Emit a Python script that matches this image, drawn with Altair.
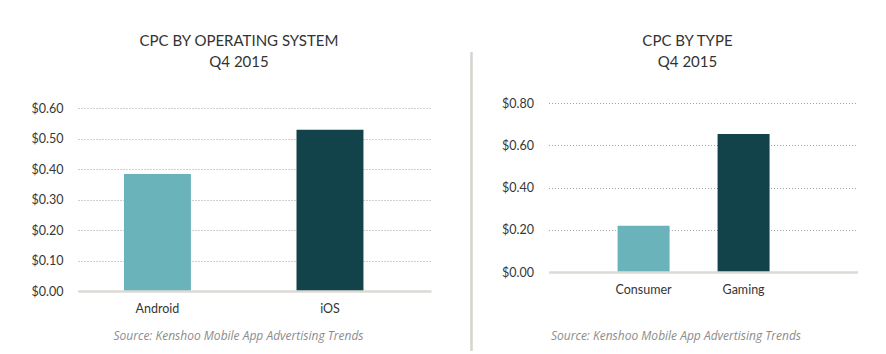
import altair as alt
import pandas as pd

# Data
os_names = ["Android", "iOS"]
os_cpc = [0.384, 0.529]
type_names = ["Consumer", "Gaming"]
type_cpc = [0.219, 0.653]
os_title = ["CPC BY OPERATING SYSTEM", "Q4 2015"]
type_title = ["CPC BY TYPE", "Q4 2015"]
os_ticks = [0, 0.1, 0.2, 0.3, 0.4, 0.5, 0.6]
type_ticks = [0, 0.2, 0.4, 0.6, 0.8]

light = "#6bb3bb"
dark = "#13434a"
source_text = "Source: Kenshoo Mobile App Advertising Trends"

df_os = pd.DataFrame({"cat": os_names, "cpc": os_cpc})
df_type = pd.DataFrame({"cat": type_names, "cpc": type_cpc})

FONT = "Lato"
TXT = "#363636"
ONE = alt.Data(values=[{"a": 1}])


def panel(df, names, title_lines, width, height, ymax, yvals, band, title_x, src_x, src_y, sep=False):
    pi, po, al = band
    bars = alt.Chart(df).mark_bar().encode(
        x=alt.X("cat:N", sort=names,
                scale=alt.Scale(paddingInner=pi, paddingOuter=po, align=al),
                axis=alt.Axis(title=source_text, labelAngle=0, ticks=False,
                              domainColor="#dcdad5", domainWidth=2.5,
                              labelPadding=11, labelFontSize=12.5, labelFont=FONT,
                              labelColor=TXT, zindex=2,
                              titleFont="Open Sans", titleFontStyle="italic",
                              titleFontWeight="normal", titleFontSize=12,
                              titleColor="#8c8c8c", titleX=src_x, titleY=src_y,
                              titleAlign="center", titleBaseline="middle",
                              titleAnchor="start")),
        y=alt.Y("cpc:Q", scale=alt.Scale(domain=[0, ymax], nice=False, zero=True),
                axis=alt.Axis(title=None, values=yvals, format="$.2f", grid=True,
                              gridDash=[1, 2], gridColor="#a0a0a0", gridWidth=1,
                              domain=False, ticks=False, labelPadding=15,
                              labelFontSize=12.5, labelFont=FONT, labelColor=TXT)),
        color=alt.Color("cat:N", scale=alt.Scale(domain=names, range=[light, dark]),
                        legend=None),
    )
    layers = [bars]
    for line, dy in zip(title_lines, [-62, -41]):
        layers.append(
            alt.Chart(ONE).mark_text(font=FONT, fontSize=15, color="#333333",
                                     align="center", baseline="middle").encode(
                x=alt.value(title_x), y=alt.value(dy), text=alt.value(line))
        )
    if sep:
        layers.append(
            alt.Chart(ONE).mark_rule(color="#d3d3cf", strokeWidth=2.5).encode(
                x=alt.value(-77), y=alt.value(-51), y2=alt.value(248))
        )
    return alt.layer(*layers).properties(width=width, height=height)


left = panel(df_os, os_names, os_title, 353, 188, 188 / 305, os_ticks,
             (0.612, 0.329, 0.405), 161, 160, 44)
right = panel(df_type, type_names, type_title, 309, 169, 0.8, type_ticks,
              (0.48, 0.785, 0.44), 139, 127, 63, sep=True)

chart = alt.hconcat(left, right, spacing=38.5).properties(
    padding={"left": 31, "top": 34, "right": 10, "bottom": 0},
    background="white",
).configure_view(stroke=None)

chart.save("out.html", embed_options={"renderer": "svg", "actions": False})
